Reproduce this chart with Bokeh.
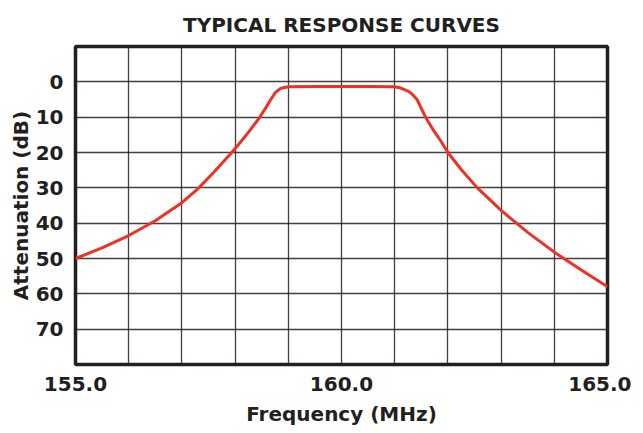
from bokeh.plotting import figure
from bokeh.models import Range1d, FixedTicker, NumeralTickFormatter, Spacer
from bokeh.layouts import row
from bokeh.embed import file_html
from bokeh.resources import INLINE

# Data
freq_mhz = [155.0, 155.5, 156.0, 156.5, 157.0, 157.3, 157.6, 157.95, 158.1, 158.25,
            158.45, 158.58, 158.67, 158.76, 158.85, 158.93, 159.01, 159.5, 160.0, 160.5,
            160.98, 161.1, 161.17, 161.26, 161.33, 161.42, 161.5, 161.58, 161.72, 161.86,
            162.0, 162.25, 162.54, 163.0, 163.5, 164.0, 164.5, 165.0]
atten_db = [50.0, 47.0, 43.5, 39.3, 34.2, 30.3, 25.6, 19.8, 17.1, 14.3,
            10.3, 7.3, 5.0, 3.0, 1.9, 1.6, 1.4, 1.3, 1.3, 1.3,
            1.4, 1.7, 2.1, 2.7, 3.5, 5.0, 7.5, 10.0, 13.5, 16.6,
            20.0, 24.8, 29.8, 36.4, 42.6, 48.2, 53.2, 58.0]

x_tick_values = [155.0, 160.0, 165.0]
x_grid_values = [155, 156, 157, 158, 159, 160, 161, 162, 163, 164, 165]
y_tick_values = [0, 10, 20, 30, 40, 50, 60, 70]

FONT = "DejaVu Sans"
INK = "#231f20"

p = figure(frame_width=532, frame_height=318, output_backend="svg", toolbar_location=None,
           x_range=Range1d(155, 165), y_range=Range1d(80, -10),
           title="TYPICAL RESPONSE CURVES",
           min_border_left=60, min_border_right=24, min_border_top=45, min_border_bottom=58)

p.title.align = "center"
p.title.text_font = FONT
p.title.text_font_size = "20px"
p.title.text_font_style = "bold"
p.title.text_color = INK
p.title.standoff = 20

p.outline_line_color = INK
p.outline_line_width = 3.5
p.outline_line_alpha = 1

p.xaxis.ticker = FixedTicker(ticks=x_tick_values)
p.xaxis.formatter = NumeralTickFormatter(format="0.0")
p.yaxis.ticker = FixedTicker(ticks=y_tick_values)
p.xgrid.ticker = FixedTicker(ticks=x_grid_values)
p.ygrid.ticker = FixedTicker(ticks=y_tick_values)

for g in (p.xgrid, p.ygrid):
    g.grid_line_color = INK
    g.grid_line_width = 1.3
    g.grid_line_alpha = 0.85

for ax in (p.xaxis, p.yaxis):
    ax.axis_line_color = None
    ax.major_tick_line_color = None
    ax.minor_tick_line_color = None
    ax.major_label_text_font = FONT
    ax.major_label_text_font_style = "bold"
    ax.major_label_text_font_size = "20px"
    ax.major_label_text_color = INK
    ax.axis_label_text_font = FONT
    ax.axis_label_text_font_style = "bold"
    ax.axis_label_text_font_size = "20px"
    ax.axis_label_text_color = INK

p.xaxis.axis_label = "Frequency (MHz)"
p.yaxis.axis_label = "Attenuation (dB)"
p.xaxis.major_label_standoff = 6
p.yaxis.major_label_standoff = 6
p.xaxis.axis_label_standoff = 8
p.yaxis.axis_label_standoff = 0

p.line(freq_mhz, atten_db, line_color="#ee3124", line_width=3, line_join="round")

layout = row(Spacer(width=5, height=10), p)

open("out.html", "w").write(file_html(layout, INLINE))
